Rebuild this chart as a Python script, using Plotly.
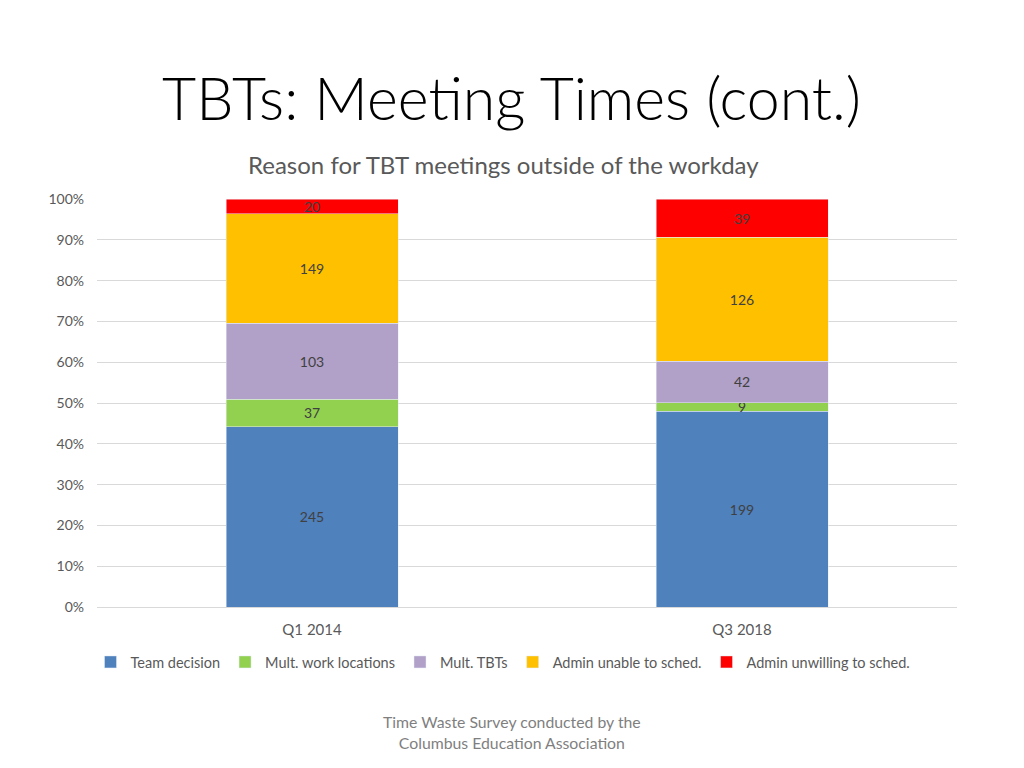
import plotly.graph_objects as go

categories = ["Q1 2014", "Q3 2018"]
series_names = ["Team decision", "Mult. work locations", "Mult. TBTs",
                "Admin unable to sched.", "Admin unwilling to sched."]
team_decision = [245, 199]
mult_work_locations = [37, 9]
mult_tbts = [103, 42]
admin_unable = [149, 126]
admin_unwilling = [20, 39]
colors = ["#4F81BD", "#92D050", "#B1A0C7", "#FFC000", "#FF0000"]
y_ticks = [0, 10, 20, 30, 40, 50, 60, 70, 80, 90, 100]
y_tick_labels = [f"{v}%" for v in y_ticks]

series_values = [team_decision, mult_work_locations, mult_tbts, admin_unable, admin_unwilling]

FONT = "Lato"
OFF = 8  # page body margin
fig = go.Figure()
for name, vals, col in zip(series_names, series_values, colors):
    fig.add_trace(go.Bar(
        x=categories, y=vals, name=name, marker_color=col,
        text=[str(v) for v in vals], textposition="inside",
        insidetextanchor="middle", textangle=0, constraintext="none",
        textfont=dict(color="#404040", size=14, family=FONT),
        hoverinfo="skip",
    ))

plot_top, plot_bot = 199, 607
plot_l, plot_r = 97, 957


def px_x(p):
    return (p - plot_l) / (plot_r - plot_l)


def px_y(p):
    return (plot_bot - p) / (plot_bot - plot_top)


fig.update_layout(
    barmode="stack", barnorm="percent", bargap=0.6,
    width=1024 - OFF, height=768 - OFF,
    margin=dict(l=plot_l - OFF, r=1024 - plot_r, t=plot_top - OFF, b=161, autoexpand=False),
    paper_bgcolor="white", plot_bgcolor="white",
    font=dict(family=FONT, color="#595959", size=14),
    showlegend=True,
    legend=dict(orientation="h", x=px_x(503), xanchor="center",
                y=px_y(662), yanchor="middle",
                font=dict(size=14.5, color="#595959", family=FONT), itemwidth=30,
                traceorder="normal"),
    uniformtext=dict(minsize=10, mode="show"),
)
fig.update_yaxes(range=[0, 100], tickvals=y_ticks, ticktext=y_tick_labels,
                 showgrid=True, gridcolor="#D9D9D9", gridwidth=1,
                 zeroline=False, showline=False, ticks="", ticklabelstandoff=12,
                 tickfont=dict(size=14, color="#595959"))
fig.update_xaxes(showline=True, linecolor="#D9D9D9", ticks="", ticklabelstandoff=9,
                 tickfont=dict(size=15, color="#595959"))

for txt, xpix, ypix, size, col, w in [
    ("TBTs: Meeting Times (cont.)", 511, 97, 59, "black", 300),
    ("Reason for TBT meetings outside of the workday", 503, 164, 24, "#595959", 400),
    ("Time Waste Survey conducted by the<br>Columbus Education Association", 512, 732, 15.8, "#7F7F7F", 400),
]:
    fig.add_annotation(text=txt, x=px_x(xpix), xref="paper", xanchor="center",
                       y=px_y(ypix), yref="paper",
                       showarrow=False, yanchor="middle",
                       font=dict(size=size, color=col, family=FONT, weight=w))

fig.write_html("out.html")
